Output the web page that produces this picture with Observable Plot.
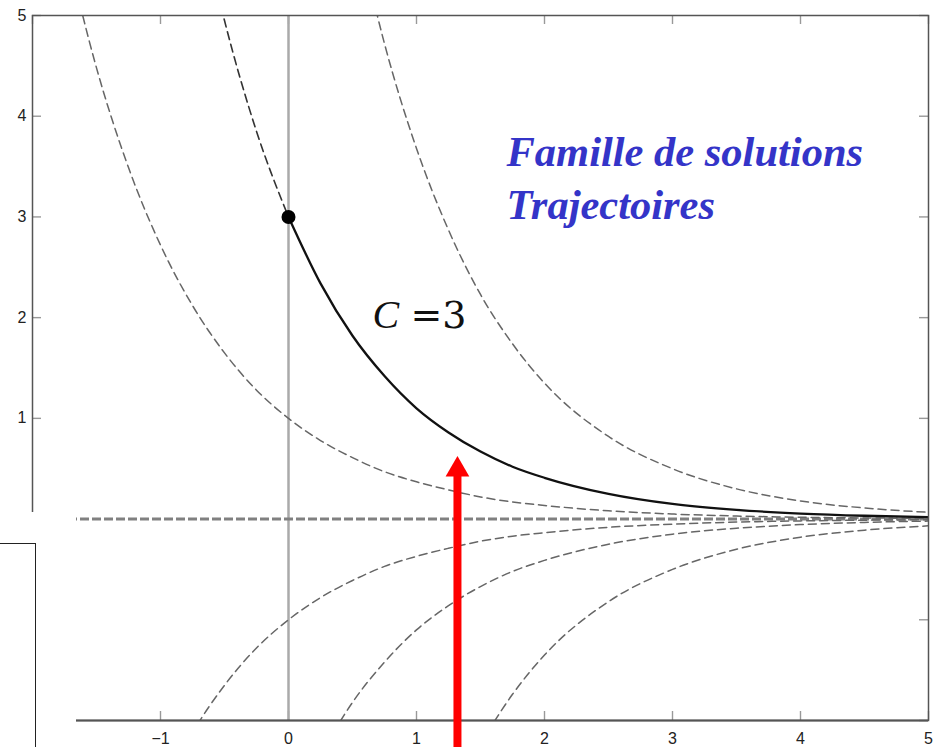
<!DOCTYPE html>
<html>
<head>
<meta charset="utf-8">
<script src="https://cdn.jsdelivr.net/npm/d3@7"></script>
<script src="https://cdn.jsdelivr.net/npm/@observablehq/plot@0.6"></script>
<style>
  html, body { margin: 0; padding: 0; background: #fff; overflow: hidden; }
  #wrap { position: relative; width: 936px; height: 747px; }
  #wrap svg { display: block; }
  .cover { position: absolute; left: 0; top: 512px; width: 76px; height: 235px; background: #fff; }
  .box { position: absolute; left: -3px; top: 543px; width: 39px; height: 220px;
         border-top: 1.5px solid #222; border-right: 1.5px solid #222; box-sizing: border-box; }
</style>
</head>
<body>
<div id="wrap"></div>
<script>
// ---- data: family of solutions y(x) for several constants C ----
const xs = [-1.75, -1.5, -1.25, -1, -0.75, -0.5, -0.25, 0, 0.25, 0.5, 0.75, 1, 1.25, 1.5, 1.75, 2, 2.5, 3, 3.5, 4, 4.5, 5];
const yC10  = [null, null, null, null, null, null, null, null, null, 6.07, 4.72, 3.68, 2.87, 2.23, 1.74, 1.35, 0.82, 0.50, 0.30, 0.18, 0.11, 0.067];
const yC3neg = [null, null, null, null, 6.35, 4.95, 3.85, 3.00, null, null, null, null, null, null, null, null, null, null, null, null, null, null];
const yC3   = [null, null, null, null, null, null, null, 3.00, 2.34, 1.82, 1.42, 1.10, 0.86, 0.67, 0.52, 0.41, 0.25, 0.15, 0.091, 0.055, 0.033, 0.020];
const yC1   = [5.75, 4.48, 3.49, 2.72, 2.12, 1.65, 1.28, 1.00, 0.78, 0.61, 0.47, 0.37, 0.29, 0.22, 0.17, 0.135, 0.082, 0.050, 0.030, 0.018, 0.011, 0.007];
const yCm1  = [null, null, null, -2.72, -2.12, -1.65, -1.28, -1.00, -0.78, -0.61, -0.47, -0.37, -0.29, -0.22, -0.17, -0.135, -0.082, -0.050, -0.030, -0.018, -0.011, -0.007];
const yCm3  = [null, null, null, null, null, null, null, null, -2.34, -1.82, -1.42, -1.10, -0.86, -0.67, -0.52, -0.41, -0.25, -0.15, -0.091, -0.055, -0.033, -0.020];
const yCm10 = [null, null, null, null, null, null, null, null, null, null, null, null, null, -2.23, -1.74, -1.35, -0.82, -0.50, -0.30, -0.18, -0.11, -0.067];
const yC0   = [0];                       // C = 0 : the constant solution
const initialPoint = [{x: 0, y: 3}];     // y(0) = 3
const xTicks = [-2, -1, 0, 1, 2, 3, 4, 5];
const yTicks = [-2, -1, 0, 1, 2, 3, 4, 5];
const xTickLabels = [-1, 0, 1, 2, 3, 4, 5];   // labels visible in the picture
const yTickLabels = [1, 2, 3, 4, 5];
const curveLabel = [{x: 0.656, y: 1.897}];
const titleLines = ["Famille de solutions", "Trajectoires"];
const titlePos = [{x: 1.703, y: 2.979}];
const arrow = [{x: 1.32, tip: 0.62, tail: -2.27}];

// ---- tables built from the arrays ----
function rows(name, ys) {
  return xs.map((x, i) => ({series: name, x, y: ys[i]})).filter(d => d.y != null);
}
const dashedRows = [
  ...rows("C=10", yC10), ...rows("C=1", yC1),
  ...rows("C=-1", yCm1), ...rows("C=-3", yCm3), ...rows("C=-10", yCm10)
];
const c3DashedRows = rows("C=3 (x<0)", yC3neg);
const c3Rows = rows("C=3", yC3);

const tickLenX = 9 / 128, tickLenY = 9 / 100.7;
const fmt = d3.format("d");

const chart = Plot.plot({
  width: 936,
  height: 747,
  marginLeft: 32,
  marginRight: 8,
  marginTop: 15,
  marginBottom: 27,
  x: {domain: [-2, 5], label: null},
  y: {domain: [-2, 5], label: null},
  style: {fontFamily: "'Liberation Sans', Arial, sans-serif", fontSize: "16px", background: "#fff", color: "#222"},
  marks: [
    Plot.axisX(xTickLabels, {anchor: "bottom", tickSize: 0, tickPadding: 12, fontSize: 16, fill: "#222", tickFormat: fmt}),
    Plot.axisY(yTickLabels, {anchor: "left", tickSize: 0, tickPadding: 6, fontSize: 16, fill: "#222", tickFormat: fmt}),
    // inward tick marks on the four sides
    Plot.ruleX(xTicks, {x: d => d, y1: -2, y2: -2 + tickLenY, stroke: "#999", strokeWidth: 1.4}),
    Plot.ruleX(xTicks, {x: d => d, y1: 5, y2: 5 - tickLenY, stroke: "#999", strokeWidth: 1.4}),
    Plot.ruleY(yTicks, {y: d => d, x1: -2, x2: -2 + tickLenX, stroke: "#999", strokeWidth: 1.4}),
    Plot.ruleY(yTicks, {y: d => d, x1: 5, x2: 5 - tickLenX, stroke: "#999", strokeWidth: 1.4}),
    // y axis line x = 0
    Plot.ruleX([0], {stroke: "#aaa", strokeWidth: 2.5}),
    // C = 0
    Plot.ruleY(yC0, {stroke: "#808080", strokeWidth: 3, strokeDasharray: "9,3"}),
    // other members of the family
    Plot.line(dashedRows, {x: "x", y: "y", z: "series", stroke: "#666", strokeWidth: 1.5,
      strokeDasharray: "8,5", curve: "monotone-x", clip: true}),
    Plot.line(c3DashedRows, {x: "x", y: "y", stroke: "#333", strokeWidth: 1.6,
      strokeDasharray: "8,5", curve: "monotone-x", clip: true}),
    Plot.line(c3Rows, {x: "x", y: "y", stroke: "#111", strokeWidth: 2.3, curve: "monotone-x", clip: true}),
    Plot.dot(initialPoint, {x: "x", y: "y", r: 7, fill: "#000"}),
    Plot.frame({stroke: "#555", strokeWidth: 1.5}),
    Plot.ruleY([-2], {stroke: "#555", strokeWidth: 2.2}),
    // annotations
    Plot.text(curveLabel, {x: "x", y: "y", text: () => "C", textAnchor: "start", lineAnchor: "bottom",
      fontFamily: "'Liberation Serif', 'Times New Roman', serif", fontStyle: "italic", fontSize: 40, fill: "#111"}),
    Plot.text(curveLabel, {x: "x", y: "y", text: () => "=3", dx: 38, textAnchor: "start", lineAnchor: "bottom",
      fontFamily: "'DejaVu Serif', serif", fontSize: 38, fill: "#111"}),
    Plot.text(titlePos, {x: "x", y: "y", text: () => titleLines.join("\n"), textAnchor: "start", lineAnchor: "bottom",
      lineHeight: 1.238, fontFamily: "'Liberation Serif', 'Times New Roman', serif", fontStyle: "italic",
      fontWeight: "bold", fontSize: 42.5, fill: "#3434c8"}),
    // red arrow
    Plot.ruleX(arrow, {x: "x", y1: "tail", y2: d => d.tip - 0.16, stroke: "#ff0000", strokeWidth: 8}),
    Plot.dot(arrow, {x: "x", y: "tip", dy: 13, symbol: "triangle", r: 8.8, fill: "#ff0000", stroke: "none"})
  ]
});
document.getElementById("wrap").appendChild(chart);
const cover = document.createElement("div"); cover.className = "cover";
const box = document.createElement("div"); box.className = "box";
document.getElementById("wrap").appendChild(cover);
document.getElementById("wrap").appendChild(box);
</script>
</body>
</html>
